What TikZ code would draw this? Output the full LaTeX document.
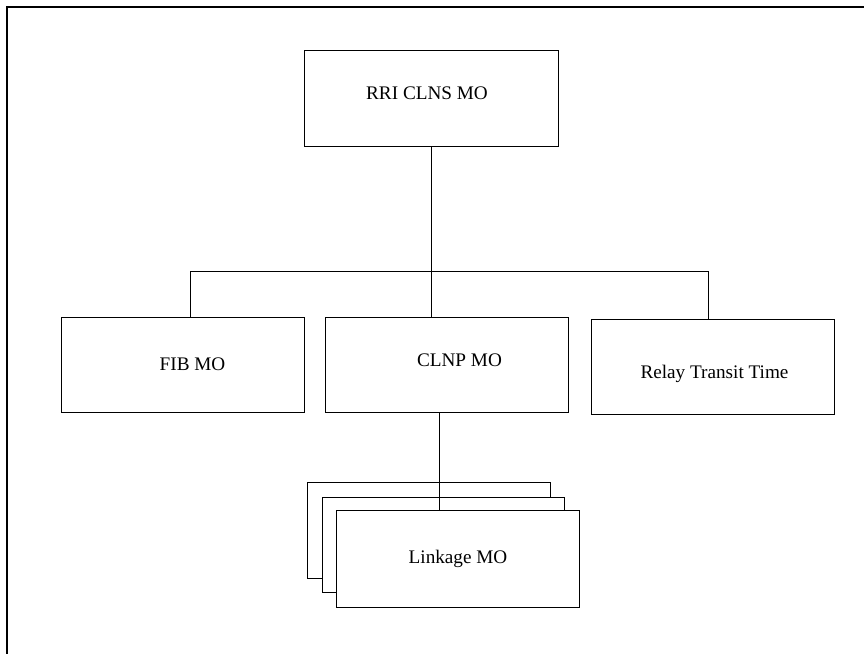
\documentclass[tikz,border=0pt]{standalone}
\usepackage{fontspec}
\setmainfont{Liberation Serif}
\begin{document}
\begin{tikzpicture}[x=1bp, y=-1bp,
  box/.style={draw=black, line width=0.9bp, fill=white, rectangle,
    inner sep=0pt, outer sep=0pt, minimum width=243bp, minimum height=95bp},
  txt/.style={anchor=base, inner sep=0pt, font=\fontsize{19.2bp}{23bp}\selectfont},
  wire/.style={draw=black, line width=0.9bp},
  frame/.style={draw=black, line width=2.2bp}]
\useasboundingbox (0,0) rectangle (864,654);

% page frame (left and top edges)
\coordinate (fTL) at (7,7);
\coordinate (fTR) at (864,7);
\coordinate (fBL) at (7,654);
\draw[frame] (fBL) -- (fTL) -- (fTR);

% top-level object
\node[box, minimum width=254bp, minimum height=96bp] (rri) at (431,98) {};
\node[txt] (rritxt) at (427,100) {RRI CLNS MO};

% second level
\node[box] (fib) at (182.5,364.5) {};
\node[txt] (fibtxt) at (192.5,370.7) {FIB MO};
\node[box] (clnp) at (446.5,364.5) {};
\node[txt] (clnptxt) at (459.5,366.7) {CLNP MO};
\node[box] (relay) at (712.5,366.5) {};
\node[txt] (relaytxt) at (714.5,378.3) {Relay Transit Time};

% bus joining the second level
\coordinate (busL) at (190,271.5);
\coordinate (busR) at (708,271.5);
\draw[wire] (rri.south) -- (rri.south |- clnp.north);
\draw[wire] (busL |- fib.north) -- (busL) -- (busR) -- (busR |- relay.north);

% stacked linkage objects (back to front)
\node[box, minimum height=96bp] (linkC) at (428.5,530) {};
\node[box, minimum width=242bp] (linkB) at (443,544.5) {};
\node[box, minimum height=97bp] (linkA) at (457.5,558.5) {};
\node[txt] (linktxt) at (458,563) {Linkage MO};

% CLNP to linkage
\coordinate (tap) at (439,412);
\draw[wire] (clnp.south -| tap) -- (tap |- linkA.north);
\end{tikzpicture}
\end{document}
